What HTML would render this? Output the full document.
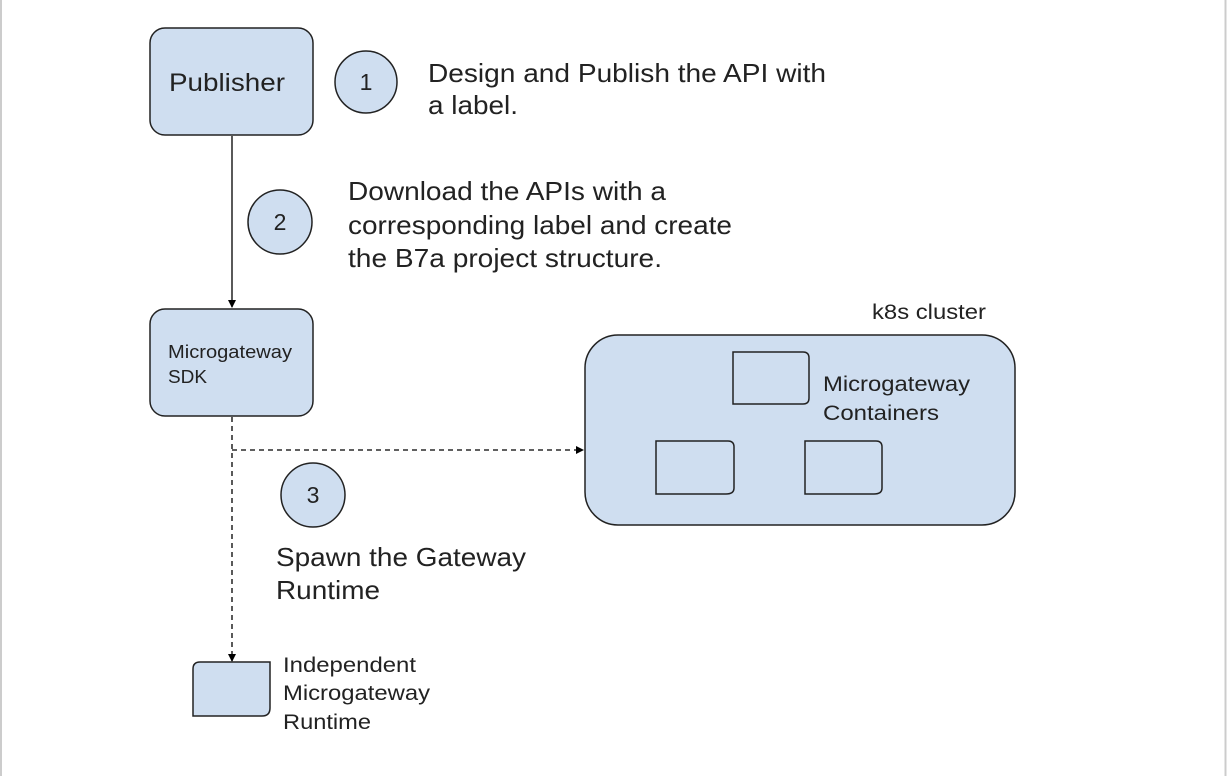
<!DOCTYPE html>
<html><head><meta charset="utf-8"><style>
html,body{margin:0;padding:0;background:#fff;}
svg{display:block;}
text{font-family:"Liberation Sans",Arial,sans-serif;fill:#222;}
</style></head><body>
<svg width="1227" height="776" viewBox="0 0 1227 776" xmlns="http://www.w3.org/2000/svg">
<defs>
<marker id="ah" markerWidth="8" markerHeight="8" refX="7" refY="4" orient="auto" markerUnits="userSpaceOnUse">
<path d="M0,0 L8,4 L0,8 z" fill="#000"/></marker>
</defs>
<rect x="0" y="0" width="1227" height="776" fill="#fff"/>
<line x1="1" y1="0" x2="1" y2="776" stroke="#ccc" stroke-width="2"/>
<line x1="1225.5" y1="0" x2="1225.5" y2="776" stroke="#ccc" stroke-width="2"/>

<line x1="232" y1="136" x2="232" y2="307" stroke="#000" stroke-width="1.3" marker-end="url(#ah)"/>
<line x1="232" y1="417" x2="232" y2="661" stroke="#000" stroke-width="1.3" stroke-dasharray="5,4" marker-end="url(#ah)"/>
<line x1="232" y1="450" x2="583" y2="450" stroke="#000" stroke-width="1.3" stroke-dasharray="5,4" marker-end="url(#ah)"/>

<g fill="#cfdef0" stroke="#222" stroke-width="1.5">
<rect x="150" y="28" width="163" height="107" rx="15"/>
<rect x="150" y="309" width="163" height="107" rx="15"/>
<rect x="585" y="335" width="430" height="190" rx="33"/>
<circle cx="366" cy="82" r="31"/>
<circle cx="280" cy="222" r="32"/>
<circle cx="313" cy="495" r="32"/>
<path d="M733,352 H803 Q809,352 809,358 V398 Q809,404 803,404 H733 Z"/>
<path d="M656,441 H728 Q734,441 734,447 V488 Q734,494 726,494 H656 Z"/>
<path d="M805,441 H876 Q882,441 882,447 V488 Q882,494 874,494 H805 Z"/>
<path d="M200,662 H270 V708 Q270,716 262,716 H193 V669 Q193,662 200,662 Z"/>
</g>

<text x="169" y="91" font-size="25" textLength="116" lengthAdjust="spacingAndGlyphs">Publisher</text>
<text x="366" y="90" font-size="23" text-anchor="middle">1</text>
<text x="280" y="230" font-size="23" text-anchor="middle">2</text>
<text x="313" y="503" font-size="23" text-anchor="middle">3</text>
<text x="168" y="358" font-size="18" textLength="124" lengthAdjust="spacingAndGlyphs">Microgateway</text>
<text x="168" y="383" font-size="18" textLength="39" lengthAdjust="spacingAndGlyphs">SDK</text>

<text x="428" y="82" font-size="26" textLength="398" lengthAdjust="spacingAndGlyphs">Design and Publish the API with</text>
<text x="428" y="114" font-size="26" textLength="90" lengthAdjust="spacingAndGlyphs">a label.</text>
<text x="348" y="200" font-size="26" textLength="318" lengthAdjust="spacingAndGlyphs">Download the APIs with a</text>
<text x="348" y="234" font-size="26" textLength="384" lengthAdjust="spacingAndGlyphs">corresponding label and create</text>
<text x="348" y="267" font-size="26" textLength="314" lengthAdjust="spacingAndGlyphs">the B7a project structure.</text>
<text x="276" y="566" font-size="26" textLength="250" lengthAdjust="spacingAndGlyphs">Spawn the Gateway</text>
<text x="276" y="599" font-size="26" textLength="104" lengthAdjust="spacingAndGlyphs">Runtime</text>
<text x="872" y="319" font-size="21" textLength="114" lengthAdjust="spacingAndGlyphs">k8s cluster</text>
<text x="823" y="391" font-size="21" textLength="147" lengthAdjust="spacingAndGlyphs">Microgateway</text>
<text x="823" y="420" font-size="21" textLength="116" lengthAdjust="spacingAndGlyphs">Containers</text>
<text x="283" y="672" font-size="21" textLength="133" lengthAdjust="spacingAndGlyphs">Independent</text>
<text x="283" y="700" font-size="21" textLength="147" lengthAdjust="spacingAndGlyphs">Microgateway</text>
<text x="283" y="729" font-size="21" textLength="88" lengthAdjust="spacingAndGlyphs">Runtime</text>
</svg>
</body></html>
